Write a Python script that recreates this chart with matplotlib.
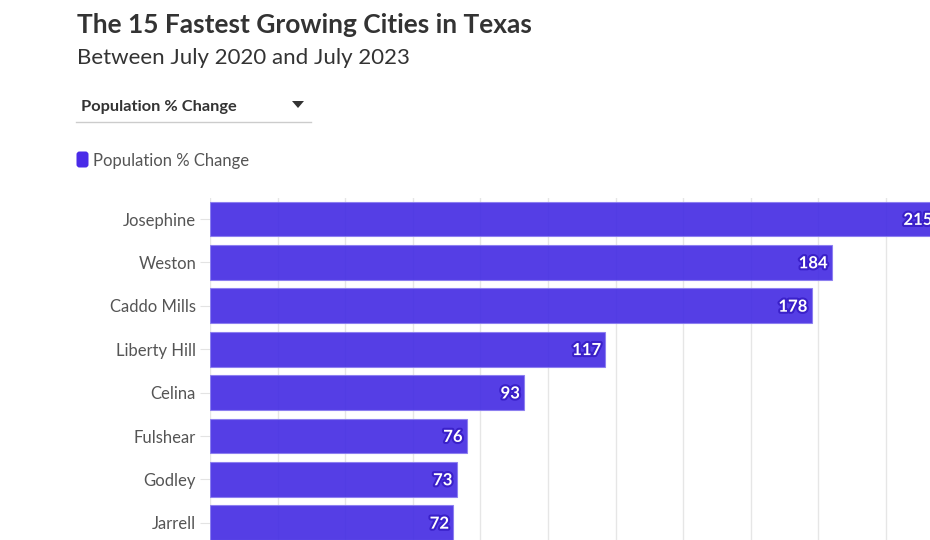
import numpy as np
import matplotlib
matplotlib.use("Agg")
matplotlib.rcParams.update({
    'font.family': ['Lato', 'DejaVu Sans'],
    'font.size': 12,
})
from matplotlib import pyplot as plt
from matplotlib import patheffects as pe
from matplotlib.patches import FancyBboxPatch, Polygon
from matplotlib.transforms import IdentityTransform

# data (only the first 8 rows are visible in the reference)
cities = ['Josephine', 'Weston', 'Caddo Mills', 'Liberty Hill',
          'Celina', 'Fulshear', 'Godley', 'Jarrell']
pct_change = [215, 184, 178, 117, 93, 76, 73, 72]
series_name = 'Population % Change'
title = 'The 15 Fastest Growing Cities in Texas'
subtitle = 'Between July 2020 and July 2023'

W, H = 930, 540
BAR = '#4229E3'


def fx(x):
    return x / W


def fy(y):
    return 1 - y / H


fig = plt.figure(figsize=(W / 100, H / 100), dpi=100)

# axes placed in pixels; it runs off the right and bottom edge like the cropped page
ax_left, ax_top = 210, 198
px_per_unit = 3.38
row_px = 43.4
xmax = 230
ytop, ybot = -0.484, 8.5
ax_w = xmax * px_per_unit
ax_h = (ybot - ytop) * row_px
ax = fig.add_axes([fx(ax_left), fy(ax_top + ax_h), ax_w / W, ax_h / H])

y = np.arange(len(cities))
ax.barh(y, pct_change, height=0.8, color=BAR, alpha=0.9,
        edgecolor='#8a7cf0', linewidth=0.8, zorder=2)
ax.set_xlim(0, xmax)
ax.set_ylim(ybot, ytop)

ax.set_xticks(np.arange(0, xmax + 1, 20))
ax.grid(axis='x', color='#e6e6e6', linewidth=1, zorder=0)
ax.tick_params(axis='x', length=0, labelbottom=False)
ax.set_yticks(y)
ax.set_yticklabels(cities, fontsize=12, color='#555555')
ax.tick_params(axis='y', length=7, color='#e3e3e3', pad=3)
for s in ax.spines.values():
    s.set_visible(False)

for i, v in enumerate(pct_change):
    ax.text(v - 1.3, i + 0.02, str(v), ha='right', va='center', color='white',
            fontsize=12, fontweight='bold', zorder=3,
            path_effects=[pe.withStroke(linewidth=3, foreground='#3a20c9')])

# header
fig.text(fx(77), fy(33), title, fontsize=19, fontweight='bold',
         color='#333333', va='baseline')
fig.text(fx(77), fy(64), subtitle, fontsize=16, color='#333333', va='baseline')

# dropdown
fig.text(fx(81), fy(111), series_name, fontsize=11.8, fontweight='bold',
         color='#333333', va='baseline')
tri = Polygon([[292, H - 101], [304, H - 101], [298, H - 108]], closed=True,
              facecolor='#333333', edgecolor='none', transform=IdentityTransform())
fig.patches.append(tri)
fig.add_artist(plt.Line2D([fx(76), fx(311)], [fy(122), fy(122)],
                          color='#cccccc', linewidth=1))

# legend
sq = FancyBboxPatch((76.5, H - 167.5), 12, 16,
                    boxstyle='round,pad=0,rounding_size=3',
                    facecolor='#4A2BE8', edgecolor='none',
                    transform=IdentityTransform())
fig.patches.append(sq)
fig.text(fx(93), fy(166), series_name, fontsize=12, color='#555555',
         va='baseline')

fig.savefig('out.png', dpi=100)
